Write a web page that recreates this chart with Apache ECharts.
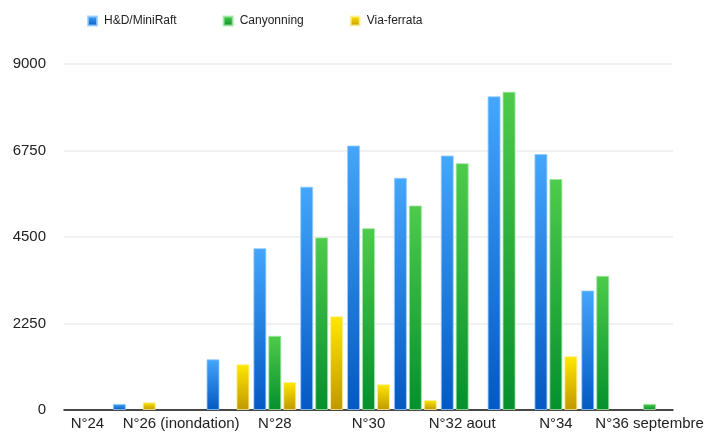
<!DOCTYPE html>
<html>
<head>
<meta charset="utf-8">
<script src="https://cdn.jsdelivr.net/npm/echarts@6/dist/echarts.min.js"></script>
<style>
    html, body { margin: 0; padding: 0; background: #fff; }
    .chart-box { width: 708px; height: 432px; display: block; }
</style>
</head>
<body>
<div class="chart-box"></div>
<script>
    // semaines
    let categories = ['N°24', 'N°25', 'N°26 (inondation)', 'N°27', 'N°28', 'N°29', 'N°30', 'N°31', 'N°32 aout', 'N°33', 'N°34', 'N°35', 'N°36 septembre']
    let seriesNames = ['H&D/MiniRaft', 'Canyonning', 'Via-ferrata']
    let raftData = [null, 160, null, 1320, 4210, 5810, 6880, 6040, 6620, 8160, 6660, 3110, null]
    let canyonData = [null, null, null, null, 1930, 4490, 4730, 5320, 6420, 8280, 6010, 3490, 160]
    let viaData = [null, 200, null, 1190, 730, 2440, 670, 260, null, null, 1400, null, null]
    let yTicks = [0, 2250, 4500, 6750, 9000]

    function grad(top, bottom) {
        return new echarts.graphic.LinearGradient(0, 0, 0, 1, [
            { offset: 0, color: top },
            { offset: 1, color: bottom }
        ])
    }

    function bar(name, data, top, bottom, edge) {
        return {
            name: name,
            type: 'bar',
            barWidth: 13,
            barGap: '15%',
            data: data,
            itemStyle: {
                color: grad(top, bottom),
                borderColor: edge,
                borderWidth: 1
            }
        }
    }

    let chart = document.getElementsByClassName('chart-box')[0]
    let mychart = echarts.init(chart)
    let font = 'Liberation Sans, Arial, Helvetica, sans-serif'
    let option = {
        backgroundColor: '#fff',
        animation: false,
        legend: {
            top: 10,
            left: 82,
            itemWidth: 9,
            itemHeight: 9,
            itemGap: 46,
            icon: 'rect',
            data: seriesNames,
            textStyle: { color: '#222', fontSize: 12, fontFamily: font, padding: [0, 0, 0, 2] }
        },
        grid: {
            top: 64,
            left: 64,
            right: 35,
            bottom: 22,
            containLabel: false
        },
        xAxis: {
            type: 'category',
            data: categories,
            axisTick: { show: false },
            axisLine: { lineStyle: { color: '#111', width: 1.5 } },
            axisLabel: {
                interval: 1,
                margin: 6,
                color: '#222',
                fontSize: 15,
                fontFamily: font,
                hideOverlap: false
            }
        },
        yAxis: {
            type: 'value',
            min: yTicks[0],
            max: yTicks[yTicks.length - 1],
            interval: yTicks[1] - yTicks[0],
            axisLine: { show: false },
            axisTick: { show: false },
            splitLine: { lineStyle: { color: '#ececec', width: 1.5 } },
            axisLabel: {
                margin: 18,
                color: '#222',
                fontSize: 15,
                fontFamily: font,
                formatter: function (v) { return String(v) }
            }
        },
        series: [
            bar(seriesNames[0], raftData, '#44a6fc', '#0458c2', 'rgba(150,205,255,0.8)'),
            bar(seriesNames[1], canyonData, '#4ecb4a', '#05902d', 'rgba(160,230,160,0.8)'),
            bar(seriesNames[2], viaData, '#ffe800', '#c09800', 'rgba(255,240,150,0.8)')
        ]
    }

    mychart.setOption(option)
</script>
</body>
</html>
